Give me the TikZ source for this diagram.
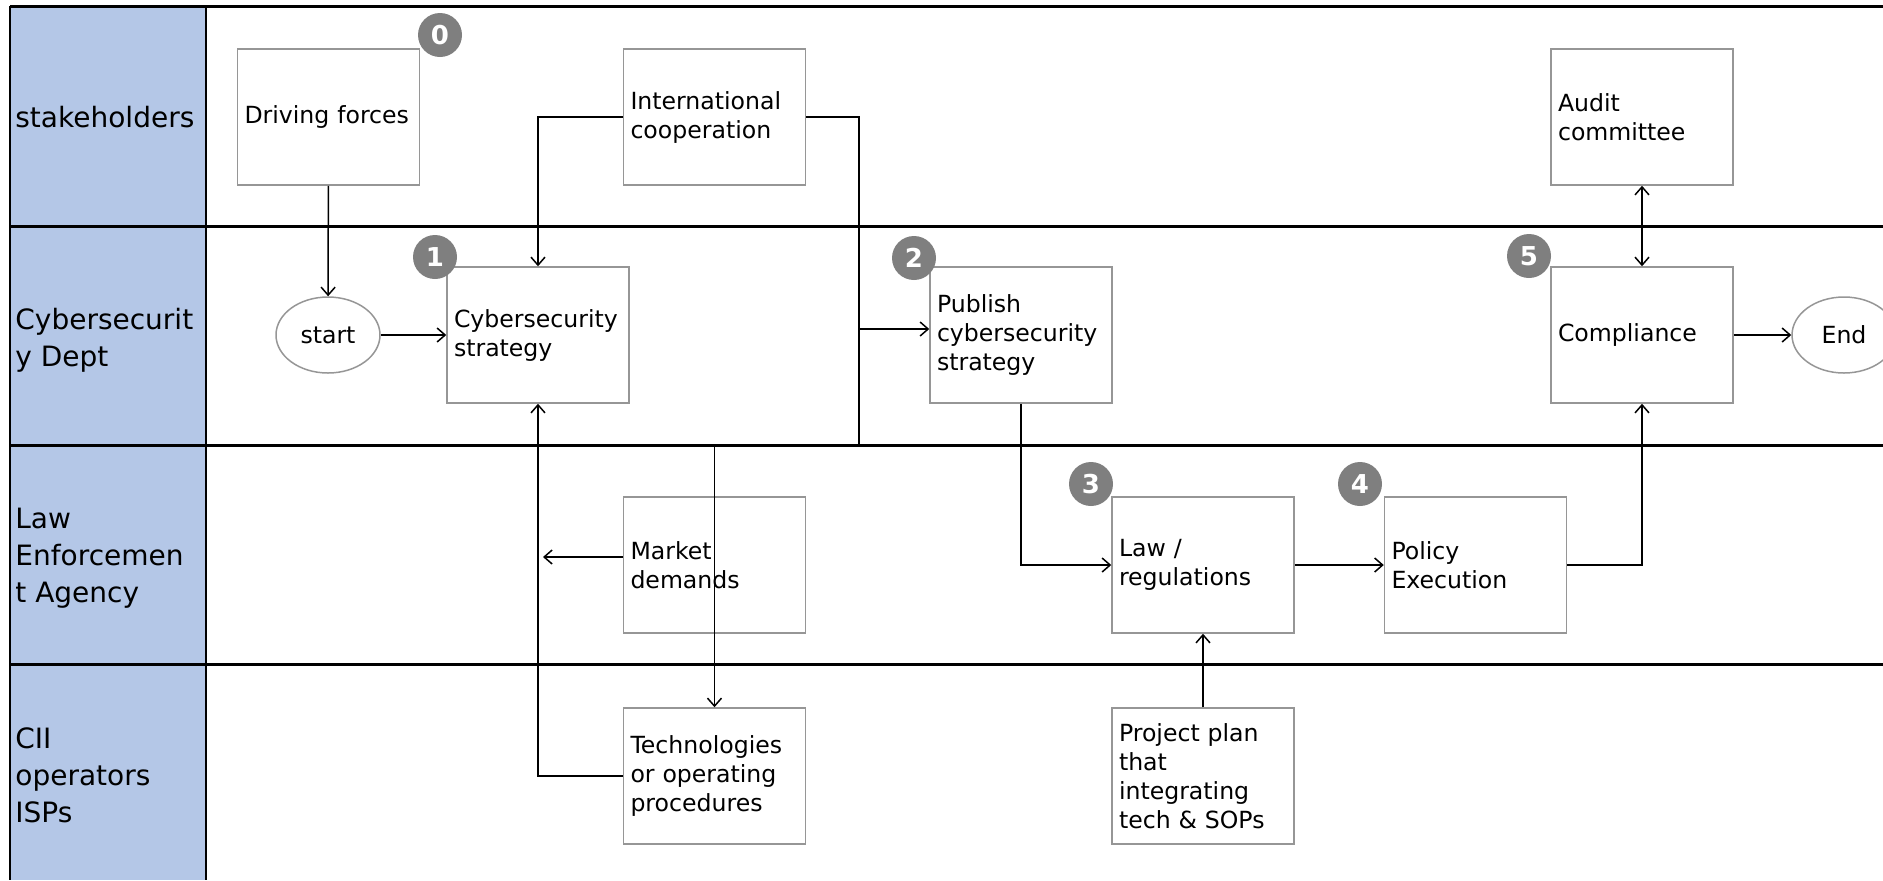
\documentclass[tikz,border=0pt]{standalone}
\usepackage{fontspec}
\setmainfont{DejaVu Sans}
\usepackage{tikz}
\usetikzlibrary{arrows.meta}
\usetikzlibrary{positioning}
\usetikzlibrary{shapes.geometric}
\definecolor{laneblue}{RGB}{180, 199, 231}
\definecolor{boxgray}{RGB}{150, 150, 150}
\definecolor{badgegray}{RGB}{127, 127, 127}
\tikzset{box/.style = {draw = boxgray, line width = 0.75pt, minimum width = 91pt, minimum height = 68pt, text width = 84pt, inner xsep = 3.5pt, align = left, font = \fontsize{11.8}{14.5}\selectfont}}
\tikzset{term/.style = {draw = boxgray, ellipse, line width = 0.75pt, minimum width = 52pt, minimum height = 38pt, inner sep = 0, font = \fontsize{11.8}{14.5}\selectfont}}
\tikzset{badge/.style = {fill = badgegray, circle, minimum size = 22pt, inner sep = 0, text = white, font = \fontsize{13}{13}\selectfont\bfseries}}
\tikzset{lanename/.style = {anchor = west, align = left, inner sep = 0, font = \fontsize{14}{18.5}\selectfont}}
\tikzset{flow/.style = {line width = 0.75pt}}

\begin{document}
\begin{tikzpicture}[x = 0.5pt, y = -0.5pt, >={Straight Barb[length = 4pt, width = 7pt]}]
      \useasboundingbox (0, 0) rectangle (1883, 880);

      % lanes
      \fill [laneblue] (10, 6) rectangle (206, 880);
      \foreach \y in {6, 226, 445, 664}
        \draw [line width = 1.5pt] (10, \y) -- (1883, \y);
      \draw [line width = 1pt] (10, 6) -- (10, 880);
      \draw [line width = 1pt] (206, 6) -- (206, 880);

      \node [lanename] (l1) at (15, 117) {stakeholders};
      \node [lanename] (l2) at (15, 340) {Cybersecurit\\y Dept};
      \node [lanename] (l3) at (15, 558) {Law\\Enforcemen\\t Agency};
      \node [lanename] (l4) at (15, 775) {CII\\operators\\ISPs};

      % steps
      \node [box] (drive) at (328.5, 117) {Driving forces};
      \node [box] (intl) at (714.5, 117) {International\\cooperation};
      \node [box] (audit) at (1642, 117) {Audit\\committee};

      \node [term] (start) at (328, 335) {start};
      \node [box] (cyber) at (538, 335) {Cybersecurity\\strategy};
      \node [box] (publish) at (1021, 335) {Publish\\cybersecurity\\strategy};
      \node [box] (comply) at (1642, 335) {Compliance};
      \node [term] (end) at (1844, 335) {End};

      \node [box] (market) at (714.5, 565) {Market\\demands};
      \node [box] (law) at (1203, 565) {Law /\\regulations};
      \node [box] (policy) at (1475.5, 565) {Policy\\Execution};

      \node [box] (tech) at (714.5, 776) {Technologies\\or operating\\procedures};
      \node [box] (plan) at (1203, 776) {Project plan\\that\\integrating\\tech \& SOPs};

      \node [badge] (b0) at (440, 35) {0};
      \node [badge] (b1) at (435, 257) {1};
      \node [badge] (b2) at (914, 258) {2};
      \node [badge] (b3) at (1091, 484) {3};
      \node [badge] (b4) at (1360, 484) {4};
      \node [badge] (b5) at (1529, 256) {5};

      % connectors
      \coordinate (split) at (859, 445);
      \coordinate (branch) at (859, 329);
      \coordinate (mkend) at (543, 557);

      \draw [flow, ->] (drive) -- (start);
      \draw [flow, ->] (start) -- (cyber);
      \draw [flow, ->] (intl.west) -| (cyber.north);
      \draw [flow, ->] (intl.east) -| (split) -- (split -| tech.north) -- (tech.north);
      \draw [flow, ->] (branch) -- (branch -| publish.west);
      \draw [flow, ->] (tech.west) -| (cyber.south);
      \draw [flow, ->] ([yshift = 4pt]market.west) -- (mkend);
      \draw [flow, ->] (publish.south) |- (law.west);
      \draw [flow, ->] (law) -- (policy);
      \draw [flow, ->] (plan) -- (law);
      \draw [flow, ->] (policy.east) -| (comply.south);
      \draw [flow, <->] (audit) -- (comply);
      \draw [flow, ->] (comply) -- (end);
    \end{tikzpicture}
\end{document}
